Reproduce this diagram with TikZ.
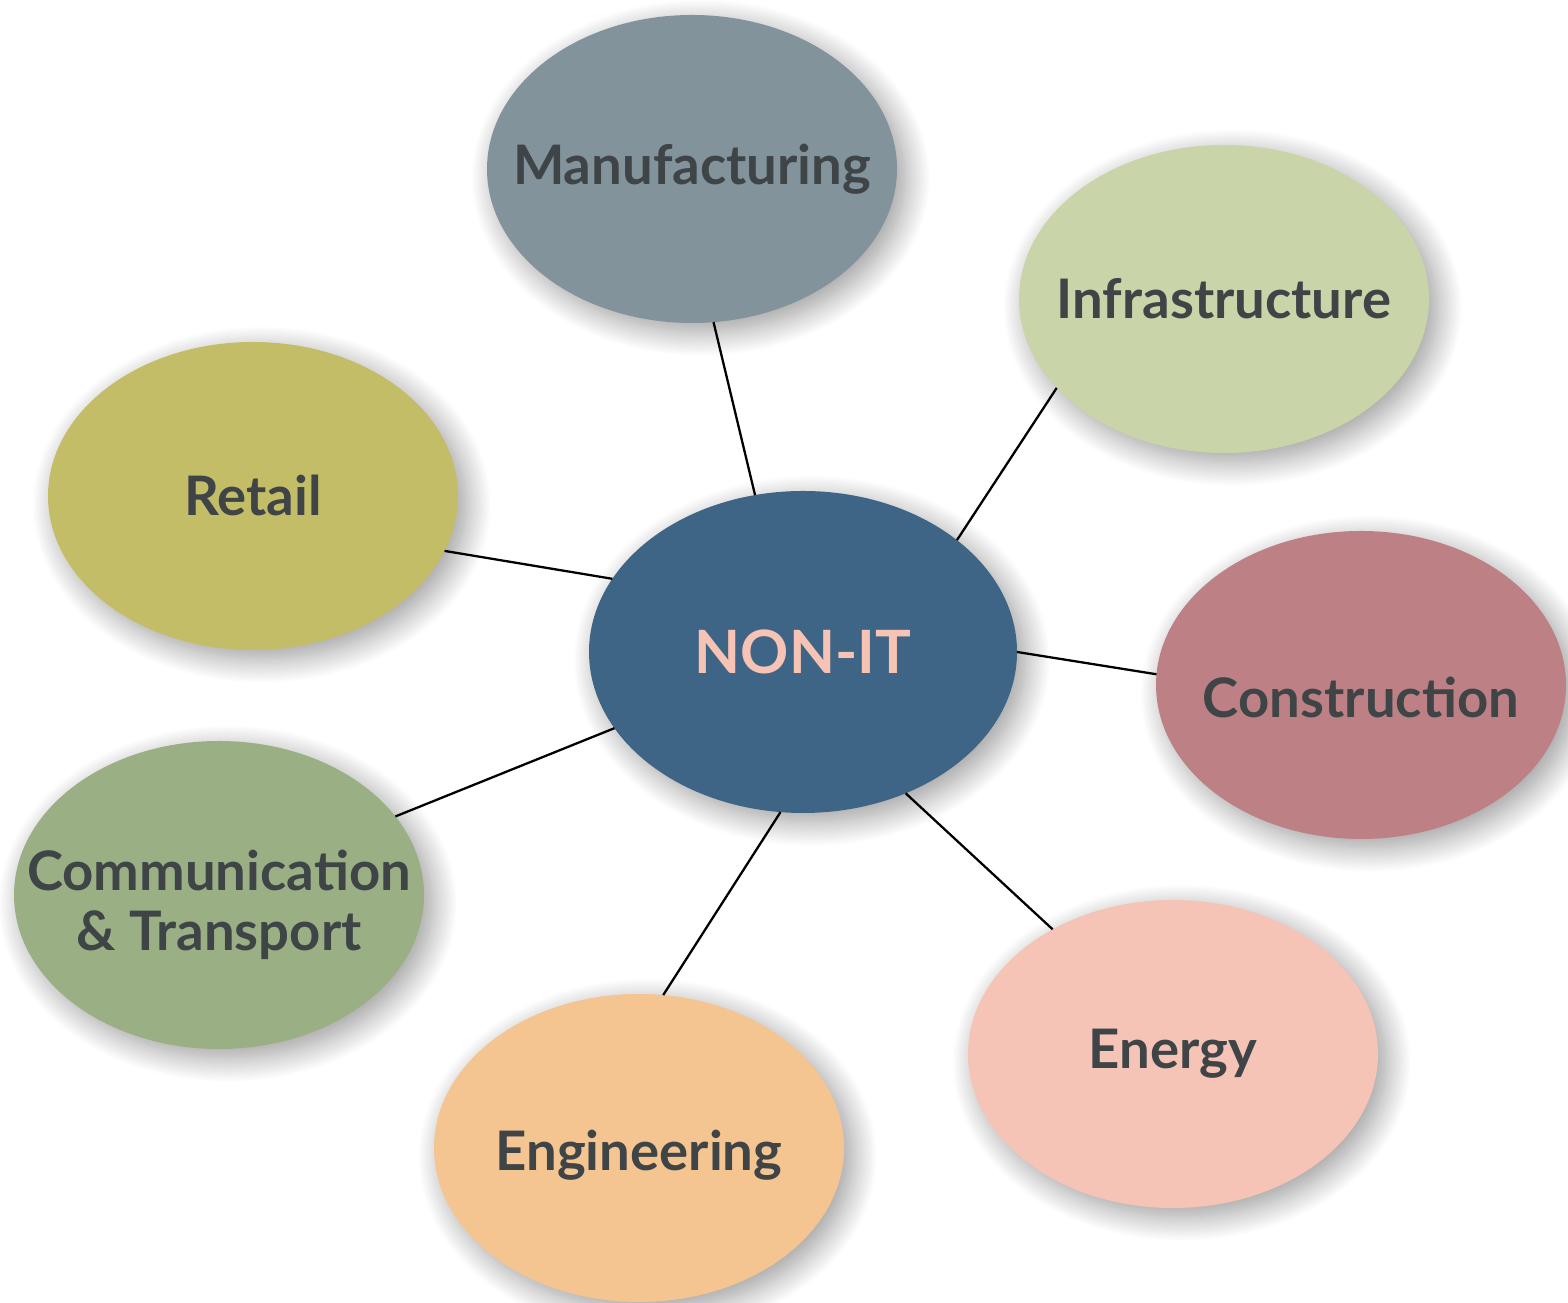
\documentclass[tikz,border=0pt]{standalone}
\usepackage{fontspec}
\setmainfont{Lato}[UprightFont=* Bold]
\usetikzlibrary{shapes.geometric}
\usetikzlibrary{shadows.blur}

\definecolor{txtgray}{HTML}{3F4447}
\definecolor{manucol}{HTML}{82939C}
\definecolor{infracol}{HTML}{C9D4A8}
\definecolor{retailcol}{HTML}{C4BD67}
\definecolor{hubcol}{HTML}{3F6586}
\definecolor{hubtxt}{HTML}{F6C3B4}
\definecolor{constrcol}{HTML}{BD8185}
\definecolor{commcol}{HTML}{9AAF84}
\definecolor{energycol}{HTML}{F6C4B6}
\definecolor{engincol}{HTML}{F4C491}

\tikzset{
  bubble/.style={ellipse, minimum width=4.1cm, minimum height=3.08cm, inner sep=0pt, outer sep=0pt,
    blur shadow={shadow xshift=2.5pt, shadow yshift=-2.5pt, shadow blur radius=7pt,
      shadow blur steps=20, shadow opacity=40}},
  txt/.style={text=txtgray, font=\fontsize{15.5}{17}\selectfont, align=center, inner sep=0pt},
  spoke/.style={draw=black, line width=0.65pt}
}

\begin{document}
\begin{tikzpicture}
\useasboundingbox (0,0) rectangle (15.68,13.03);

\node[bubble, fill=manucol, label={[txt]center:Manufacturing}] (manu) at (6.92, 11.34) {};
\node[bubble, fill=infracol, label={[txt]center:Infrastructure}] (infra) at (12.24, 10.04) {};
\node[bubble, fill=retailcol, label={[txt]center:Retail}] (retail) at (2.53, 8.07) {};
\node[bubble, fill=constrcol, label={[txt, yshift=-0.12cm]center:Construction}] (constr) at (13.61, 6.18) {};
\node[bubble, fill=commcol, label={[txt, yshift=-0.1cm]center:Communication\\\& Transport}] (comm) at (2.19, 4.08) {};
\node[bubble, fill=energycol, label={[txt]center:Energy}] (energy) at (11.73, 2.49) {};
\node[bubble, fill=engincol, label={[txt, yshift=-0.07cm]center:Engineering}] (engin) at (6.39, 1.55) {};

\node[bubble, fill=hubcol, minimum width=4.28cm, minimum height=3.22cm,
  label={[txt, text=hubtxt, font=\fontsize{17}{19}\selectfont]center:NON-IT}] (nonit) at (8.03, 6.51) {};

% spokes
\draw[spoke] (manu.278) -- (nonit.107);
\draw[spoke] (infra.208) -- (nonit.36);
\draw[spoke] (retail.344) -- (nonit.159);
\draw[spoke] (constr.177) -- (nonit.0);
\draw[spoke] (comm.24) -- (nonit.202);
\draw[spoke] (engin.81) -- (nonit.262);
\draw[spoke] (energy.134) -- (nonit.306);
\end{tikzpicture}
\end{document}
